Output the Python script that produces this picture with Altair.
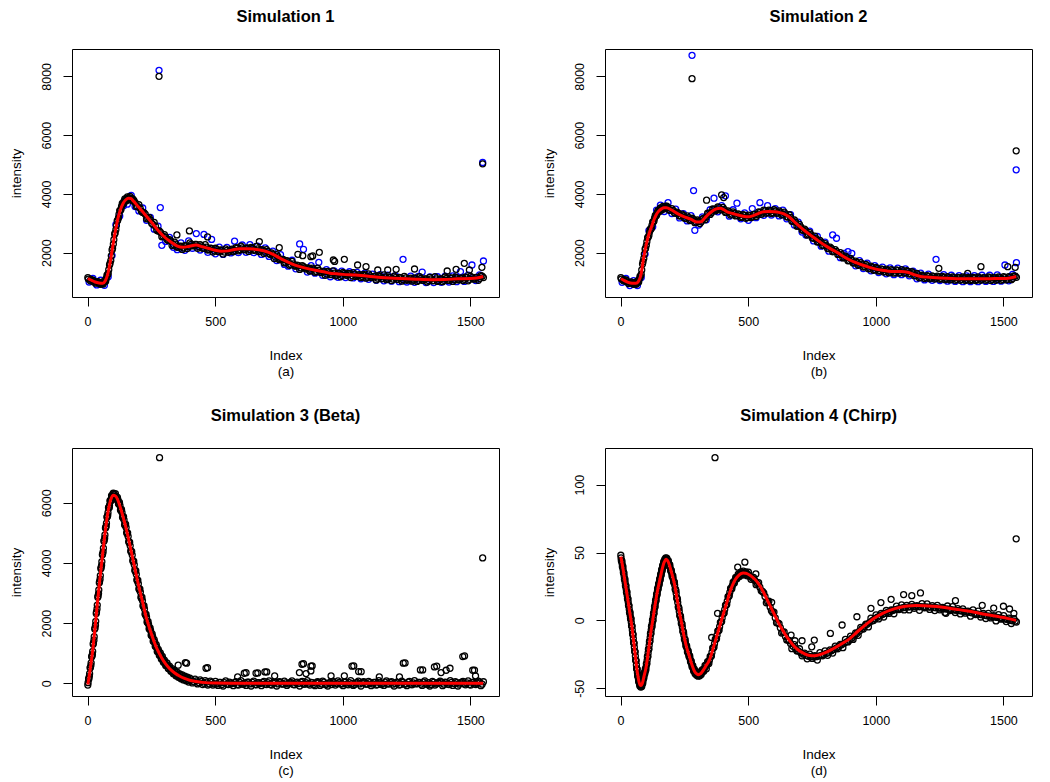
import altair as alt
import pandas as pd

FONT = "Liberation Sans"
X_DOMAIN = [-61, 1612]
X_TICKS = [0, 500, 1000, 1500]

# ---------------- Simulation 1 ----------------
P1_BLACK_IDX = [*range(1, 51, 10), *range(51, 181, 5), *range(181, 1552, 10)]
P1_BLACK_VAL = [
    1150, 1040, 1060, 960, 1010,
    920, 990, 930, 1040, 1030, 1230, 1290, 1580, 1730, 2090,
    2290, 2630, 2780, 3080, 3180, 3430, 3470, 3680, 3670, 3830,
    3760, 3900, 3810, 3910, 3790, 3840,
    3790, 3570, 3630, 3410, 3360, 3150, 3200, 3000, 3030, 2760,
    2740, 2540, 2610, 2450, 2440, 2240, 2360, 2180, 2210, 2110,
    2240, 2140, 2330, 2230, 2280, 2150, 2270, 2150, 2270, 2090,
    2150, 2020, 2150, 2040, 2090, 1950, 2130, 2010, 2090, 2030,
    2170, 2060, 2220, 2100, 2150, 2040, 2180, 2080, 2210, 2030,
    2100, 1970, 2100, 1970, 1990, 1800, 1930, 1760, 1770, 1650,
    1730, 1570, 1700, 1550, 1570, 1430, 1560, 1480, 1470, 1370,
    1470, 1330, 1470, 1330, 1360, 1230, 1360, 1250, 1380, 1210,
    1300, 1180, 1330, 1240, 1290, 1150, 1320, 1190, 1240, 1150,
    1260, 1130, 1280, 1150, 1190, 1070, 1210, 1110, 1240, 1080,
    1160, 1050, 1200, 1090, 1160, 1030, 1190, 1060, 1110, 1030,
    1140, 1020, 1180, 1060, 1110, 1000, 1160, 1040, 1180, 1020,
    1110, 1010, 1170, 1060, 1140, 1020, 1170, 1070, 1120, 1050,
    1170, 1040, 1190, 1100, 1160, 1060, 1220, 1150,
]
P1_BLACK2_IDX = [*range(3, 51, 10), *range(53, 181, 5), *range(186, 1552, 10)]
P1_BLACK2_VAL = [
    1100, 1090, 1010, 1000, 960,
    970, 950, 990, 1020, 1120, 1230, 1420, 1630, 1890, 2150,
    2440, 2670, 2920, 3100, 3300, 3430, 3570, 3650, 3750, 3780,
    3835, 3840, 3865, 3835, 3825, 3760,
    3710, 3570, 3510, 3370, 3310, 3170, 3110, 2960, 2900, 2740,
    2690, 2560, 2530, 2410, 2400, 2280, 2290, 2190, 2220, 2160,
    2230, 2200, 2280, 2240, 2280, 2200, 2230, 2150, 2190, 2110,
    2140, 2060, 2100, 2030, 2080, 2020, 2080, 2050, 2120, 2080,
    2150, 2100, 2160, 2100, 2160, 2100, 2150, 2090, 2130, 2050,
    2090, 2010, 2040, 1940, 1950, 1850, 1860, 1760, 1770, 1670,
    1690, 1600, 1620, 1540, 1560, 1480, 1520, 1440, 1480, 1400,
    1440, 1360, 1400, 1320, 1360, 1280, 1320, 1260, 1300, 1240,
    1290, 1230, 1290, 1230, 1280, 1220, 1270, 1210, 1250, 1190,
    1230, 1170, 1210, 1150, 1190, 1130, 1180, 1120, 1170, 1110,
    1160, 1100, 1150, 1090, 1140, 1080, 1140, 1080, 1130, 1070,
    1120, 1060, 1120, 1060, 1110, 1050, 1110, 1050, 1110, 1050,
    1110, 1060, 1120, 1060, 1130, 1080, 1140, 1080, 1140, 1090,
    1150, 1090, 1150, 1100, 1160, 1120, 1200,
]
P1_BLACK_OUT_IDX = [280, 350, 399, 470, 673, 751, 824, 843, 875, 882, 908, 963, 968, 1006,
                    1058, 1091, 1137, 1176, 1209, 1281, 1409, 1444, 1476, 1496, 1545, 1548]
P1_BLACK_OUT_VAL = [8000, 2602, 2738, 2534, 2375, 2170, 1944, 1898, 1864, 1887, 2011, 1750, 1700, 1773,
                    1580, 1523, 1409, 1409, 1432, 1443, 1375, 1432, 1636, 1409, 1500, 5023]
P1_BLUE_IDX = [*range(6, 1552, 15)]
P1_BLUE_VAL = [
    1000, 1120, 900, 1060, 890, 1180, 1900, 2950, 3250, 3600,
    3650, 3950, 3570, 3420, 3520, 3100, 3200, 2800, 2900, 2250,
    2380, 2520, 2180, 2100, 2330, 2080, 2400, 2150, 2650, 2090,
    2620, 2010, 2450, 1960, 2190, 1940, 2180, 1990, 2390, 2000,
    2260, 2010, 2270, 2000, 2220, 1940, 2160, 1870, 2050, 1730,
    1930, 1600, 1540, 1740, 1450, 2295, 2114, 1340, 1560, 1300,
    1670, 1230, 1420, 1180, 1380, 1160, 1370, 1150, 1350, 1140,
    1330, 1110, 1300, 1090, 1270, 1060, 1250, 1040, 1230, 1030,
    1220, 1010, 1773, 1000, 1200, 990, 1190, 1340, 980, 1170,
    980, 1180, 990, 1200, 1000, 1210, 1010, 1352, 1020, 1230,
    1580, 1050, 1240, 1716,
]
P1_BLUE_OUT_IDX = [280, 285, 1548]
P1_BLUE_OUT_VAL = [8205, 3534, 5068]
P1_RED_IDX = [1, 15, 30, 45, 60, 70, 80, 90, 100, 110, 120, 130, 140, 150, 160, 170, 180,
              200, 225, 250, 275, 300, 325, 350, 375, 400, 425, 450, 475, 500, 525, 550, 575,
              600, 625, 650, 675, 700, 725, 750, 775, 800, 825, 850, 875, 900, 925, 950, 975,
              1000, 1050, 1100, 1150, 1200, 1250, 1300, 1350, 1400, 1450, 1500, 1525, 1550]
P1_RED_VAL = [1120, 1060, 1000, 970, 960, 1050, 1300, 1740, 2280, 2790, 3200, 3490, 3690, 3800, 3850, 3840, 3750,
              3550, 3300, 3040, 2770, 2540, 2370, 2230, 2180, 2220, 2260, 2200, 2140, 2080, 2050, 2060, 2110,
              2130, 2130, 2120, 2090, 2040, 1950, 1830, 1720, 1620, 1540, 1480, 1430, 1390, 1350, 1300, 1280,
              1260, 1240, 1200, 1150, 1130, 1110, 1090, 1080, 1085, 1110, 1120, 1140, 1190]

# ---------------- Simulation 2 ----------------
P2_BLACK_IDX = [*range(1, 51, 10), *range(51, 181, 5), *range(181, 1552, 10)]
P2_BLACK_VAL = [
    1150, 1040, 1070, 950, 1000,
    920, 990, 920, 1030, 1000, 1190, 1260, 1610, 1800, 2120,
    2250, 2510, 2580, 2800, 2830, 3050, 3080, 3270, 3270, 3430,
    3390, 3520, 3450, 3570, 3490, 3580,
    3580, 3440, 3500, 3350, 3380, 3250, 3310, 3170, 3250, 3090,
    3170, 3020, 3110, 2990, 3140, 3120, 3340, 3300, 3490, 3420,
    3560, 3450, 3540, 3370, 3420, 3280, 3390, 3250, 3320, 3200,
    3290, 3170, 3280, 3190, 3300, 3230, 3390, 3300, 3450, 3340,
    3450, 3330, 3460, 3340, 3420, 3280, 3380, 3220, 3290, 3070,
    3110, 2900, 2960, 2770, 2800, 2600, 2680, 2500, 2560, 2360,
    2420, 2240, 2310, 2140, 2190, 2030, 2100, 1940, 2000, 1820,
    1880, 1720, 1800, 1650, 1710, 1570, 1660, 1510, 1600, 1450,
    1540, 1400, 1500, 1370, 1450, 1340, 1440, 1310, 1420, 1300,
    1410, 1300, 1420, 1300, 1390, 1270, 1350, 1210, 1290, 1140,
    1230, 1120, 1220, 1110, 1210, 1100, 1200, 1090, 1190, 1080,
    1180, 1070, 1170, 1060, 1160, 1060, 1170, 1050, 1160, 1050,
    1160, 1050, 1170, 1060, 1150, 1060, 1170, 1050, 1160, 1060,
    1170, 1060, 1180, 1070, 1180, 1080, 1210, 1160,
]
P2_BLACK2_IDX = [*range(3, 51, 10), *range(53, 181, 5), *range(186, 1552, 10)]
P2_BLACK2_VAL = [
    1100, 1080, 1010, 990, 960,
    965, 945, 975, 995, 1090, 1190, 1410, 1690, 1950, 2150,
    2370, 2520, 2690, 2790, 2930, 3040, 3170, 3250, 3350, 3390,
    3455, 3470, 3510, 3515, 3540, 3525,
    3530, 3440, 3440, 3340, 3340, 3250, 3260, 3170, 3190, 3110,
    3120, 3040, 3060, 3050, 3170, 3210, 3340, 3360, 3470, 3460,
    3530, 3470, 3470, 3370, 3390, 3310, 3340, 3270, 3290, 3220,
    3260, 3200, 3250, 3220, 3300, 3290, 3370, 3350, 3420, 3370,
    3420, 3360, 3410, 3350, 3380, 3300, 3320, 3210, 3200, 3060,
    3040, 2900, 2880, 2760, 2740, 2620, 2610, 2490, 2480, 2370,
    2360, 2250, 2240, 2140, 2140, 2040, 2040, 1940, 1930, 1830,
    1830, 1730, 1740, 1650, 1670, 1590, 1610, 1530, 1550, 1470,
    1500, 1420, 1460, 1390, 1420, 1360, 1400, 1340, 1390, 1330,
    1390, 1330, 1380, 1320, 1360, 1290, 1310, 1220, 1240, 1160,
    1200, 1150, 1190, 1140, 1180, 1130, 1170, 1120, 1160, 1110,
    1150, 1100, 1140, 1090, 1140, 1090, 1130, 1080, 1130, 1080,
    1130, 1080, 1130, 1090, 1140, 1090, 1140, 1090, 1140, 1090,
    1140, 1090, 1150, 1100, 1160, 1120, 1200,
]
P2_BLACK_OUT_IDX = [280, 337, 396, 404, 1247, 1360, 1412, 1517, 1546, 1550]
P2_BLACK_OUT_VAL = [7920, 3784, 3966, 3875, 1466, 1295, 1523, 1523, 1500, 5466]
P2_BLUE_IDX = [*range(6, 1552, 15)]
P2_BLUE_VAL = [
    990, 1120, 880, 1050, 880, 1150, 1950, 2750, 2880, 3450,
    3620, 3400, 3700, 3330, 3480, 3180, 3330, 3080, 3260, 2761,
    2940, 3220, 3120, 3460, 3852, 3390, 3600, 3932, 3240, 3460,
    3682, 3150, 3350, 3100, 3500, 3190, 3700, 3270, 3600, 3280,
    3500, 3250, 3450, 3150, 3290, 2940, 3040, 2700, 2600, 2730,
    2400, 2550, 2220, 2360, 2050, 2602, 2489, 1830, 1970, 2034,
    1977, 1550, 1730, 1460, 1640, 1380, 1560, 1320, 1510, 1280,
    1480, 1250, 1470, 1250, 1450, 1210, 1370, 1110, 1300, 1070,
    1270, 1060, 1773, 1050, 1250, 1030, 1230, 1020, 1220, 1010,
    1210, 1010, 1220, 1010, 1230, 1020, 1230, 1020, 1240, 1030,
    1580, 1040, 1260, 1659,
]
P2_BLUE_OUT_IDX = [280, 286, 1550]
P2_BLUE_OUT_VAL = [8716, 4113, 4818]
P2_RED_IDX = [1, 15, 30, 45, 60, 70, 80, 90, 100, 110, 120, 130, 140, 150, 160, 170, 180, 200, 225, 250,
              275, 300, 315, 330, 345, 360, 375, 390, 405, 420, 440, 460, 480, 500, 520, 540, 560, 580, 600, 620,
              640, 660, 680, 700, 725, 750, 775, 800, 825, 850, 875, 900, 925, 950, 975, 1000, 1025, 1050, 1075, 1100,
              1125, 1150, 1175, 1200, 1250, 1300, 1350, 1400, 1450, 1500, 1525, 1550]
P2_RED_VAL = [1110, 1050, 990, 960, 955, 1020, 1250, 1800, 2250, 2600, 2850, 3100, 3300, 3420, 3490, 3530, 3530, 3450, 3320, 3220,
              3140, 3040, 3050, 3180, 3310, 3420, 3490, 3510, 3460, 3380, 3330, 3280, 3240, 3220, 3260, 3330, 3390, 3400, 3390, 3370,
              3320, 3220, 3060, 2900, 2720, 2560, 2400, 2250, 2120, 2000, 1860, 1740, 1650, 1570, 1500, 1440, 1400, 1370, 1360, 1360,
              1330, 1250, 1190, 1170, 1140, 1120, 1110, 1110, 1115, 1120, 1140, 1190]

# ---------------- Simulation 3 (Beta) ----------------
P3_BLACK_IDX = [*range(1, 101, 3), *range(101, 301, 4), *range(301, 401, 5), *range(401, 1552, 10)]
P3_BLACK_VAL = [
    -60, 150, 230, 510, 590, 880, 960, 1300, 1430, 1800,
    1930, 2320, 2470, 2860, 2980, 3340, 3460, 3810, 3920, 4270,
    4370, 4720, 4820, 5160, 5220, 5520, 5580, 5840, 5840, 6070,
    6060, 6240, 6190, 6300,
    6320, 6170, 6300, 6110, 6180, 5970, 6010, 5760, 5780, 5520,
    5540, 5270, 5290, 5010, 5000, 4710, 4690, 4400, 4380, 4080,
    4060, 3760, 3740, 3440, 3430, 3140, 3140, 2860, 2860, 2580,
    2580, 2300, 2300, 2040, 2060, 1810, 1840, 1600, 1640, 1400,
    1450, 1230, 1280, 1060, 1130, 930, 1010, 810, 890, 700,
    770, 590, 680, 490, 570, 400, 490, 320, 420, 250,
    370, 200, 310, 150, 280, 110, 240, 80, 200, 40,
    170, 10, 140, -20, 110, -40, 90, -60, 70, -60,
    60, -70, 30, -90, 80, -40, 10, -80, 50, -60,
    90, -30, -70, 40, -90, 70, -50, 20, -80, 60,
    -40, 80, -60, 30, -90, 50, -20, 70, -70, 10,
    80, -50, 40, -90, 60, -30, 90, -60, 20, -80,
    50, -70, 70, -40, -90, 30, 60, -60, 80, -20,
    -80, 40, -50, 90, -70, 10, 70, -90, 50, -30,
    60, -80, 30, -60, 90, -40, -70, 80, -20, 50,
    -90, 40, -60, 70, -30, -80, 60, -50, 90, -10,
    30, -70, 80, -40, -90, 60, -60, 20, 70, -80,
    40, -30, 90, -70, 50, -90, 10, 60, -50, 80,
    -60, 30, -40, 70, -80, 50,
]
P3_BLACK2_IDX = [*range(2, 101, 3), *range(103, 301, 4), *range(303, 401, 5), *range(406, 1552, 10)]
P3_BLACK2_VAL = [
    20, 140, 320, 530, 680, 900, 1060, 1340, 1550, 1840,
    2060, 2370, 2600, 2900, 3100, 3380, 3580, 3850, 4040, 4300,
    4490, 4750, 4930, 5180, 5320, 5540, 5670, 5840, 5920, 6060,
    6110, 6220, 6220,
    6270, 6210, 6230, 6120, 6100, 5960, 5910, 5740, 5680, 5500,
    5430, 5250, 5180, 4970, 4880, 4670, 4570, 4360, 4260, 4040,
    3940, 3720, 3620, 3400, 3310, 3110, 3030, 2830, 2750, 2550,
    2470, 2270, 2200, 2020, 1960, 1800, 1750, 1590, 1550, 1400,
    1370, 1230, 1200, 1070, 1060, 940, 940, 820, 820, 710,
    700, 600, 600, 500, 510, 420, 430, 340, 360, 280,
    300, 220, 260, 180, 220, 140, 180, 100, 150, 80,
    110, 50, 80, 20, 60, 0, 40, -20, 30, -20,
    -20, 30, -40, 20, -30, 40, -10, 20, -40, 30,
    -30, 10, 40, -20, 30, -40, 20, -10, 30, -30,
    20, -40, 10, 30, -20, 40, -30, 10, -20, 30,
    -40, 20, -10, 40, -30, 20, -20, 30, -40, 10,
    30, -20, 40, -30, 10, -40, 20, -10, 30, -20,
    40, -30, 20, -10, -40, 30, -20, 10, 40, -30,
    20, -20, 30, -40, 10, -10, 40, -20, 30, -30,
    -10, 20, -40, 30, -20, 40, -30, 10, -20, 30,
    -30, 40, -10, 20, -40, 30, -20, 10, 40, -30,
    20, -40, 30, -10, 20, -30, 40, -20, 10, -40,
    30, -20, 10, 40, -30,
]
P3_BLACK_OUT_IDX = [282, 355, 383, 388, 464, 470, 588, 614, 621, 660, 667, 695, 702, 733, 830, 840, 846,
                    856, 875, 875, 880, 954, 1006, 1036, 1043, 1062, 1072, 1143, 1222, 1237, 1244, 1304,
                    1313, 1359, 1368, 1385, 1405, 1420, 1470, 1477, 1509, 1516, 1520, 1548]
P3_BLACK_OUT_VAL = [7500, 600, 689, 667, 500, 520, 211, 333, 353, 333, 343, 378, 377, 244, 356, 633, 653,
                    322, 567, 411, 577, 244, 244, 567, 577, 389, 387, 211, 211, 667, 677, 444,
                    443, 544, 567, 356, 433, 500, 889, 910, 433, 433, 244, 4167]
P3_RED_IDX = [1, 10, 20, 30, 40, 50, 60, 70, 80, 90, 100, 110, 120, 130, 140, 150, 160, 170, 180, 190, 200,
              215, 230, 245, 260, 275, 290, 305, 320, 340, 360, 380, 400, 425, 450, 500, 600, 800, 1000,
              1200, 1400, 1550]
P3_RED_VAL = [-40, 450, 1080, 1900, 2800, 3600, 4360, 5100, 5700, 6080, 6250, 6220, 6060, 5800, 5500, 5190,
              4820, 4430, 4030, 3630, 3250, 2720, 2190, 1770, 1400, 1090, 850, 650, 500, 350, 240, 160, 100,
              60, 30, 5, 0, 0, 0, 0, 0, 0]

# ---------------- Simulation 4 (Chirp) ----------------
P4_BLACK_IDX = [*range(1, 181, 2), *range(181, 321, 3), *range(321, 501, 5), *range(501, 1552, 10)]
P4_BLACK_VAL = [
    48.0, 44.0, 43.9, 39.5, 39.8, 35.2, 35.0, 30.3, 30.4, 25.5,
    25.6, 20.8, 20.9, 15.9, 15.9, 11.1, 10.9, 5.8, 5.9, 1.2,
    1.3, -4.0, -4.3, -9.8, -10.5, -16.2, -16.9, -22.6, -23.2, -29.1,
    -29.8, -35.6, -36.0, -41.0, -40.6, -45.2, -44.3, -48.1, -46.3, -49.1,
    -46.7, -48.7, -45.2, -46.3, -42.0, -42.7, -38.5, -39.4, -35.7, -36.6,
    -32.0, -32.0, -26.8, -26.6, -21.3, -21.1, -15.7, -15.2, -9.8, -9.6,
    -4.5, -4.7, 0.1, 0.0, 5.1, 5.1, 10.1, 9.9, 14.7, 14.4,
    19.2, 18.8, 23.3, 23.0, 26.9, 26.2, 30.4, 29.7, 33.9, 33.2,
    37.4, 36.6, 40.6, 39.4, 43.2, 41.8, 44.9, 43.1, 46.1, 43.8,
    45.8, 42.9, 44.1, 40.2, 40.9, 36.6, 36.9, 32.4, 32.7, 28.1,
    28.2, 22.8, 22.0, 16.4, 15.5, 9.8, 8.9, 3.4, 2.9, -2.2,
    -2.8, -8.2, -8.8, -13.9, -14.1, -18.9, -18.7, -23.2, -22.5, -26.6,
    -26.1, -30.5, -30.0, -34.1, -33.3, -37.2, -36.0, -39.4, -37.6, -40.5,
    -38.5, -41.1, -38.6, -40.8, -38.0, -39.9, -36.8,
    -36.2, -37.4, -33.1, -35.7, -30.4, -31.8, -26.5, -26.3, -20.3, -19.8,
    -13.9, -13.6, -7.7, -7.2, -1.4, -0.9, 4.9, 5.4, 11.2, 11.7,
    17.5, 18.2, 23.5, 23.4, 28.1, 27.5, 31.6, 30.6, 34.0, 32.4,
    35.6, 33.5, 36.3, 33.6, 35.8, 32.8,
    35.5, 30.3, 31.7, 26.3, 27.8, 21.8, 20.3, 13.0, 14.1, 7.1,
    6.1, -1.7, -2.4, -9.3, -8.5, -14.4, -15.0, -20.8, -17.8, -22.5,
    -20.9, -26.1, -24.1, -28.3, -24.8, -28.0, -26.0, -29.2, -23.7, -26.1,
    -22.5, -25.7, -21.7, -24.1, -19.0, -20.9, -17.7, -20.1, -14.0, -15.9,
    -11.6, -14.0, -9.3, -11.0, -5.2, -6.4, -2.8, -4.8, 1.6, -0.1,
    4.1, 1.1, 5.1, 2.5, 7.3, 5.1, 7.8, 4.9, 10.5, 8.0,
    11.4, 7.7, 11.0, 7.7, 11.8, 8.9, 10.9, 7.4, 12.3, 9.3,
    12.2, 8.1, 10.9, 7.2, 11.0, 7.8, 9.6, 5.8, 10.6, 7.3,
    10.1, 5.8, 8.6, 4.8, 8.5, 5.3, 6.9, 3.1, 7.7, 4.3,
    6.9, 2.5, 5.2, 1.4, 5.1, 1.8, 3.5, -0.4, 4.3, 0.9,
    3.5, -0.9, 1.6, -2.3, 1.3, -1.2,
]
P4_BLACK2_IDX = [*range(2, 181, 2), *range(182, 321, 3), *range(323, 501, 5), *range(506, 1552, 10)]
P4_BLACK2_VAL = [
    46.0, 44.0, 41.9, 39.7, 37.5, 35.1, 32.7, 30.3, 27.9, 25.5,
    23.1, 20.7, 18.3, 15.9, 13.5, 10.9, 8.3, 5.9, 3.5, 1.2,
    -1.4, -4.2, -7.1, -10.2, -13.4, -16.6, -19.8, -23.0, -26.3, -29.5,
    -32.8, -35.9, -38.6, -40.9, -43.0, -44.8, -46.3, -47.3, -47.8, -48.0,
    -47.8, -47.0, -45.8, -44.2, -42.4, -40.7, -39.0, -37.6, -36.2, -34.4,
    -32.0, -29.5, -26.8, -24.0, -21.3, -18.5, -15.5, -12.6, -9.8, -7.1,
    -4.7, -2.4, 0.0, 2.5, 5.1, 7.6, 10.0, 12.3, 14.5, 16.8,
    19.0, 21.0, 23.1, 24.9, 26.5, 28.3, 30.0, 31.8, 33.5, 35.3,
    37.0, 38.6, 40.0, 41.3, 42.5, 43.3, 44.0, 44.6, 44.9, 44.8,
    44.5, 43.8, 42.6, 41.0, 39.1, 37.0, 35.0, 32.9, 30.7, 28.5,
    26.0, 23.0, 19.8, 16.5, 13.2, 9.9, 6.6, 3.7, 0.9, -2.0,
    -5.0, -8.0, -10.9, -13.6, -16.1, -18.5, -20.6, -22.6, -24.3, -26.0,
    -28.0, -30.0, -31.8, -33.5, -35.0, -36.5, -37.5, -38.5, -39.0, -39.5,
    -39.8, -40.0, -39.8, -39.5, -39.0, -38.5, -37.8,
    -37.0, -35.5, -33.9, -32.6, -31.1, -29.3, -26.7, -23.6, -20.4, -17.2,
    -14.0, -10.9, -7.7, -4.6, -1.4, 1.8, 5.0, 8.0, 11.1, 14.2,
    17.5, 20.6, 23.3, 25.6, 27.6, 29.5, 31.0, 32.2, 33.2, 34.0,
    34.6, 34.9, 35.0, 34.8, 34.5, 34.1,
    32.6, 31.2, 29.4, 27.2, 24.5, 21.3, 17.6, 13.8, 9.8, 5.8,
    1.9, -1.9, -5.4, -8.7, -11.8, -14.5, -17.0, -19.1, -21.0, -22.5,
    -23.8, -24.9, -25.8, -26.4, -26.7, -26.8, -26.7, -26.3, -25.7, -25.1,
    -24.4, -23.5, -22.4, -21.4, -20.3, -19.1, -18.0, -16.9, -15.8, -14.6,
    -13.1, -11.5, -9.7, -7.9, -6.1, -4.4, -2.9, -1.4, -0.2, 1.2,
    2.3, 3.3, 4.3, 5.1, 5.9, 6.6, 7.3, 7.9, 8.5, 8.9,
    9.3, 9.6, 9.8, 10.0, 10.1, 10.1, 10.1, 10.1, 10.0, 9.9,
    9.8, 9.7, 9.5, 9.3, 9.1, 8.9, 8.6, 8.4, 8.2, 7.9,
    7.6, 7.4, 7.2, 6.9, 6.6, 6.3, 6.0, 5.6, 5.2, 4.8,
    4.4, 4.1, 3.8, 3.4, 3.1, 2.8, 2.5, 2.2, 1.8, 1.4,
    1.0, 0.6, 0.1, -0.3, -0.6,
]
P4_BLACK_OUT_IDX = [370, 1550, 459, 487, 380, 357, 592, 530, 668, 683, 711, 759, 749, 822, 868, 926, 981,
                    1020, 1060, 1109, 1141, 1175, 1312, 1417, 1462, 1500, 1524, 1541, 1275]
P4_BLACK_OUT_VAL = [119.9, 60.1, 39.2, 42.9, 5.2, -12.6, 13.3, 34.2, -10.8, -15.0, -15.0, -14.5, -19.5, -9.6,
                    -3.4, 2.7, 8.9, 13.1, 15.5, 19.0, 18.2, 20.2, 14.5, 11.1, 9.1, 10.4, 8.4, 5.2, 5.2]
P4_RED_IDX = [1, 5, 10, 15, 20, 25, 30, 35, 41, 46,
              51, 56, 60, 64, 68, 72, 76, 80, 84, 88,
              92, 96, 100, 104, 108, 112, 116, 120, 126, 130,
              134, 138, 142, 146, 150, 154, 158, 162, 166, 170,
              174, 178, 182, 186, 190, 195, 200, 205, 211, 216,
              221, 226, 231, 237, 242, 247, 252, 257, 262, 269,
              275, 281, 287, 293, 299, 305, 311, 317, 323, 329,
              336, 342, 348, 355, 361, 367, 374, 380, 387, 393,
              400, 406, 413, 420, 426, 432, 440, 448, 456, 464,
              472, 480, 490, 500, 520, 531, 545, 560, 583, 600,
              620, 635, 650, 665, 680, 700, 720, 740, 760, 780,
              800, 831, 865, 897, 930, 962, 995, 1027, 1060, 1092,
              1125, 1158, 1190, 1223, 1255, 1288, 1320, 1354, 1387, 1419,
              1450, 1484, 1515, 1550]
P4_RED_VAL = [47, 43, 37.5, 31.5, 25.5, 19.5, 13.5, 7, 0, -7,
              -15, -23, -29.5, -36, -41, -45, -47.5, -48, -47, -44.5,
              -41, -38, -34.5, -29.5, -24, -18.5, -12.5, -7, 0, 5,
              10, 14.5, 19, 23, 26.5, 30, 33.5, 37, 40, 42.5,
              44, 45, 44.5, 43.5, 41.5, 38.5, 35, 31.5, 27, 22,
              16.5, 11, 5.5, 0, -5, -10, -14.5, -18.5, -22, -26,
              -30, -33.5, -36.5, -38.5, -39.5, -40, -39.5, -38.5, -37, -35.2,
              -33, -31.4, -29.3, -25.6, -21.7, -17.8, -13.4, -9.6, -5.2, -1.4,
              3, 6.8, 11.1, 15.5, 19.5, 22.8, 26.5, 29.5, 31.8, 33.4,
              34.5, 35, 34.7, 34, 31.4, 29.3, 25.7, 20.7, 11.8, 5.4,
              -2.2, -7.3, -11.8, -15.6, -19.1, -22.4, -24.5, -25.8, -26, -25.3,
              -24, -21.1, -17.4, -13.6, -8, -2.9, 1.8, 5.2, 7.8, 9.5,
              10.6, 10.9, 10.8, 10.4, 9.8, 9.0, 8.1, 7.1, 6.0, 4.7,
              3.8, 2.6, 1.5, 0]


def frame(idx, val):
    return pd.DataFrame({"idx": idx, "val": val})


def panel(title, sub, ydom, yticks, black, blue, red):
    xs = alt.Scale(domain=X_DOMAIN, nice=False, zero=False)
    ys = alt.Scale(domain=ydom, nice=False, zero=False)
    xax = alt.Axis(values=X_TICKS, title=["Index", sub], labelExpr="'' + datum.value",
                   labelPadding=9, titlePadding=21, titleLineHeight=16)
    yax = alt.Axis(values=yticks, title="intensity", labelExpr="'' + datum.value",
                   labelAngle=270, labelAlign="center", labelBaseline="bottom",
                   labelPadding=10, titlePadding=17)
    enc = dict(x=alt.X("idx:Q", scale=xs, axis=xax), y=alt.Y("val:Q", scale=ys, axis=yax))
    pt = dict(shape="circle", filled=False, size=36, strokeWidth=1.3, opacity=1)
    layers = []
    if blue is not None:
        layers.append(alt.Chart(blue).mark_point(color="#0000ff", **pt).encode(**enc))
    layers.append(alt.Chart(black).mark_point(color="#000000", **pt).encode(**enc))
    layers.append(alt.Chart(red).mark_line(color="#ff0000", strokeWidth=3, interpolate="monotone").encode(**enc))
    return alt.layer(*layers).properties(
        width=427, height=248,
        title=alt.TitleParams(title, fontSize=16.5, fontWeight="bold", font=FONT, anchor="middle",
                              offset=24, color="black"),
    )


p1 = panel("Simulation 1", "(a)", [490, 8931], [2000, 4000, 6000, 8000],
           frame(P1_BLACK_IDX + P1_BLACK2_IDX + P1_BLACK_OUT_IDX,
                 P1_BLACK_VAL + P1_BLACK2_VAL + P1_BLACK_OUT_VAL),
           frame(P1_BLUE_IDX + P1_BLUE_OUT_IDX, P1_BLUE_VAL + P1_BLUE_OUT_VAL),
           frame(P1_RED_IDX, P1_RED_VAL))
p2 = panel("Simulation 2", "(b)", [490, 8931], [2000, 4000, 6000, 8000],
           frame(P2_BLACK_IDX + P2_BLACK2_IDX + P2_BLACK_OUT_IDX,
                 P2_BLACK_VAL + P2_BLACK2_VAL + P2_BLACK_OUT_VAL),
           frame(P2_BLUE_IDX + P2_BLUE_OUT_IDX, P2_BLUE_VAL + P2_BLUE_OUT_VAL),
           frame(P2_RED_IDX, P2_RED_VAL))
p3 = panel("Simulation 3 (Beta)", "(c)", [-423, 7820], [0, 2000, 4000, 6000],
           frame(P3_BLACK_IDX + P3_BLACK2_IDX + P3_BLACK_OUT_IDX,
                 P3_BLACK_VAL + P3_BLACK2_VAL + P3_BLACK_OUT_VAL),
           None,
           frame(P3_RED_IDX, P3_RED_VAL))
p4 = panel("Simulation 4 (Chirp)", "(d)", [-55.7, 127], [-50, 0, 50, 100],
           frame(P4_BLACK_IDX + P4_BLACK2_IDX + P4_BLACK_OUT_IDX,
                 P4_BLACK_VAL + P4_BLACK2_VAL + P4_BLACK_OUT_VAL),
           None,
           frame(P4_RED_IDX, P4_RED_VAL))

chart = alt.vconcat(
    alt.hconcat(p1, p2, spacing=41),
    alt.hconcat(p3, p4, spacing=41),
    spacing=28,
).properties(
    padding={"left": 0, "top": 0, "right": 0, "bottom": 0},
    background="white",
).configure_view(
    stroke="black", strokeWidth=1,
).configure_axis(
    labelFont=FONT, labelFontSize=12.5, labelColor="black",
    titleFont=FONT, titleFontSize=13.5, titleFontWeight="normal", titleColor="black",
    tickColor="black", tickSize=9, tickWidth=1, domain=False, grid=False,
    labelFlush=False, labelOverlap=False,
)

chart.save("out.html", embed_options={"renderer": "svg", "actions": False})
